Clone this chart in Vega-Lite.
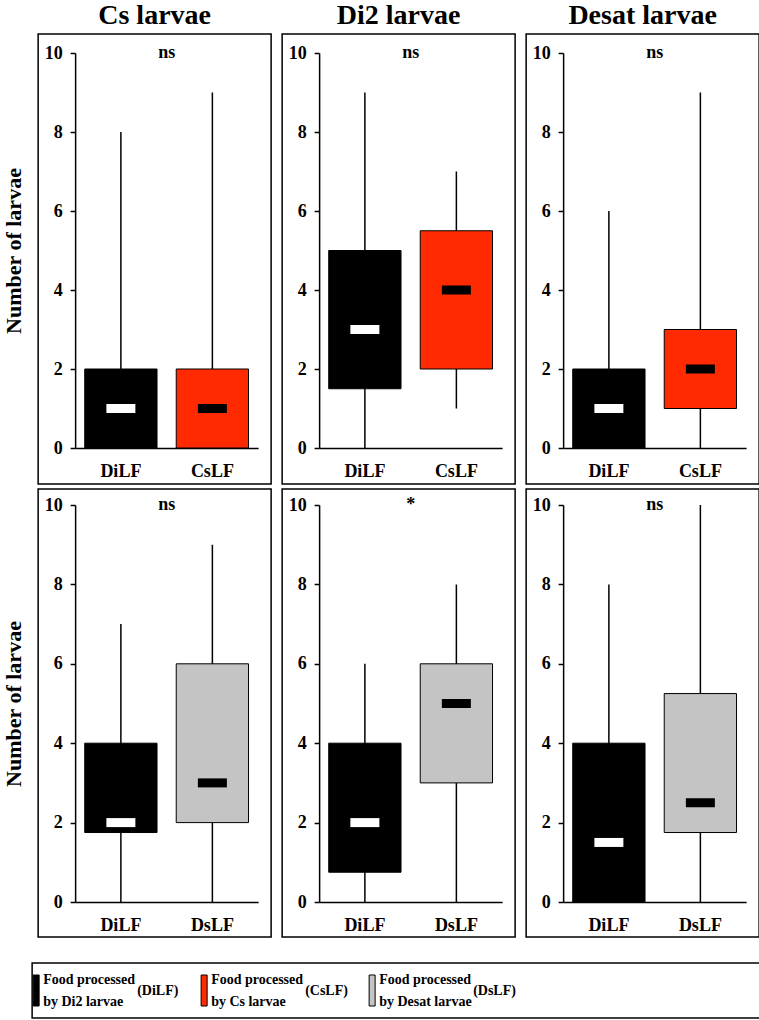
{
  "$schema": "https://vega.github.io/schema/vega-lite/v6.json",
  "padding": {"left": 1, "top": 1, "right": 0, "bottom": 0},
  "background": "white",
  "datasets": {
    "boxes": [
      {"panel": "A", "group": "DiLF", "lower": 0, "q1": 0, "median": 1, "q3": 2, "upper": 8},
      {"panel": "A", "group": "CsLF", "lower": 0, "q1": 0, "median": 1, "q3": 2, "upper": 9},
      {"panel": "B", "group": "DiLF", "lower": 0, "q1": 1.5, "median": 3, "q3": 5, "upper": 9},
      {"panel": "B", "group": "CsLF", "lower": 1, "q1": 2, "median": 4, "q3": 5.5, "upper": 7},
      {"panel": "C", "group": "DiLF", "lower": 0, "q1": 0, "median": 1, "q3": 2, "upper": 6},
      {"panel": "C", "group": "CsLF", "lower": 0, "q1": 1, "median": 2, "q3": 3, "upper": 9},
      {"panel": "D", "group": "DiLF", "lower": 0, "q1": 1.75, "median": 2, "q3": 4, "upper": 7},
      {"panel": "D", "group": "DsLF", "lower": 0, "q1": 2, "median": 3, "q3": 6, "upper": 9},
      {"panel": "E", "group": "DiLF", "lower": 0, "q1": 0.75, "median": 2, "q3": 4, "upper": 6},
      {"panel": "E", "group": "DsLF", "lower": 0, "q1": 3, "median": 5, "q3": 6, "upper": 8},
      {"panel": "F", "group": "DiLF", "lower": 0, "q1": 0, "median": 1.5, "q3": 4, "upper": 8},
      {"panel": "F", "group": "DsLF", "lower": 0, "q1": 1.75, "median": 2.5, "q3": 5.25, "upper": 10}
    ],
    "annot": [
      {"panel": "A", "sig": "ns"},
      {"panel": "B", "sig": "ns"},
      {"panel": "C", "sig": "ns"},
      {"panel": "D", "sig": "ns"},
      {"panel": "E", "sig": "*"},
      {"panel": "F", "sig": "ns"}
    ],
    "legend": [
      {"code": "DiLF", "label": "Food processed\nby  Di2 larvae", "abbr": "(DiLF)"},
      {"code": "CsLF", "label": "Food processed\nby  Cs larvae", "abbr": "(CsLF)"},
      {"code": "DsLF", "label": "Food processed\nby  Desat larvae", "abbr": "(DsLF)"}
    ]
  },
  "vconcat": [
    {
      "vconcat": [
        {
          "hconcat": [
            {
              "width": 233, "height": 450,
              "title": {"text": "Cs larvae"},
              "layer": [
                {"data": {"name": "boxes"}, "transform": [{"filter": "datum.panel === 'A'"}],
                 "mark": {"type": "rule", "color": "black", "strokeWidth": 1.5},
                 "encoding": {
                   "x": {"field": "group", "type": "nominal", "sort": null, "scale": {"type": "band", "range": [37, 220], "paddingInner": 0.21, "paddingOuter": 0.105}, "axis": {"title": null, "labelAngle": 0, "ticks": false, "tickSize": 0, "labelPadding": 14, "offset": -36}},
                   "y": {"field": "lower", "type": "quantitative", "scale": {"domain": [0, 10], "range": [414, 19], "nice": false, "zero": false}, "axis": {"values": [0, 2, 4, 6, 8, 10], "offset": -37, "tickSize": 5, "labelPadding": 8, "title": "Number of larvae", "titleX": -62, "titleY": 216.5, "titleAngle": 270, "titleBaseline": "middle", "titleAlign": "center", "titleFontSize": 22}},
                   "y2": {"field": "upper"}
                 }},
                {"data": {"name": "boxes"}, "transform": [{"filter": "datum.panel === 'A'"}],
                 "mark": {"type": "bar", "stroke": "black", "strokeWidth": 1, "opacity": 1},
                 "encoding": {
                   "x": {"field": "group", "type": "nominal", "sort": null},
                   "y": {"field": "q1", "type": "quantitative"},
                   "y2": {"field": "q3"},
                   "color": {"field": "group", "type": "nominal", "scale": {"domain": ["DiLF", "CsLF", "DsLF"], "range": ["#000000", "#ff2a00", "#c4c4c4"]}, "legend": null}
                 }},
                {"data": {"name": "boxes"}, "transform": [{"filter": "datum.panel === 'A'"}],
                 "mark": {"type": "tick", "orient": "horizontal", "thickness": 9, "size": 29, "opacity": 1},
                 "encoding": {
                   "x": {"field": "group", "type": "nominal", "sort": null},
                   "y": {"field": "median", "type": "quantitative"},
                   "color": {"condition": {"test": "datum.group === 'DiLF'", "value": "white"}, "value": "black"}
                 }},
                {"data": {"name": "annot"}, "transform": [{"filter": "datum.panel === 'A'"}],
                 "mark": {"type": "text", "dx": 12, "fontSize": 18, "baseline": "middle"},
                 "encoding": {"y": {"datum": 10, "type": "quantitative"}, "text": {"field": "sig"}}}
              ]
            },
            {
              "width": 233, "height": 450,
              "title": {"text": "Di2 larvae"},
              "layer": [
                {"data": {"name": "boxes"}, "transform": [{"filter": "datum.panel === 'B'"}],
                 "mark": {"type": "rule", "color": "black", "strokeWidth": 1.5},
                 "encoding": {
                   "x": {"field": "group", "type": "nominal", "sort": null, "scale": {"type": "band", "range": [37, 220], "paddingInner": 0.21, "paddingOuter": 0.105}, "axis": {"title": null, "labelAngle": 0, "ticks": false, "tickSize": 0, "labelPadding": 14, "offset": -36}},
                   "y": {"field": "lower", "type": "quantitative", "scale": {"domain": [0, 10], "range": [414, 19], "nice": false, "zero": false}, "axis": {"values": [0, 2, 4, 6, 8, 10], "offset": -37, "tickSize": 5, "labelPadding": 8, "title": null}},
                   "y2": {"field": "upper"}
                 }},
                {"data": {"name": "boxes"}, "transform": [{"filter": "datum.panel === 'B'"}],
                 "mark": {"type": "bar", "stroke": "black", "strokeWidth": 1, "opacity": 1},
                 "encoding": {
                   "x": {"field": "group", "type": "nominal", "sort": null},
                   "y": {"field": "q1", "type": "quantitative"},
                   "y2": {"field": "q3"},
                   "color": {"field": "group", "type": "nominal", "scale": {"domain": ["DiLF", "CsLF", "DsLF"], "range": ["#000000", "#ff2a00", "#c4c4c4"]}, "legend": null}
                 }},
                {"data": {"name": "boxes"}, "transform": [{"filter": "datum.panel === 'B'"}],
                 "mark": {"type": "tick", "orient": "horizontal", "thickness": 9, "size": 29, "opacity": 1},
                 "encoding": {
                   "x": {"field": "group", "type": "nominal", "sort": null},
                   "y": {"field": "median", "type": "quantitative"},
                   "color": {"condition": {"test": "datum.group === 'DiLF'", "value": "white"}, "value": "black"}
                 }},
                {"data": {"name": "annot"}, "transform": [{"filter": "datum.panel === 'B'"}],
                 "mark": {"type": "text", "dx": 12, "fontSize": 18, "baseline": "middle"},
                 "encoding": {"y": {"datum": 10, "type": "quantitative"}, "text": {"field": "sig"}}}
              ]
            },
            {
              "width": 233, "height": 450,
              "title": {"text": "Desat larvae"},
              "layer": [
                {"data": {"name": "boxes"}, "transform": [{"filter": "datum.panel === 'C'"}],
                 "mark": {"type": "rule", "color": "black", "strokeWidth": 1.5},
                 "encoding": {
                   "x": {"field": "group", "type": "nominal", "sort": null, "scale": {"type": "band", "range": [37, 220], "paddingInner": 0.21, "paddingOuter": 0.105}, "axis": {"title": null, "labelAngle": 0, "ticks": false, "tickSize": 0, "labelPadding": 14, "offset": -36}},
                   "y": {"field": "lower", "type": "quantitative", "scale": {"domain": [0, 10], "range": [414, 19], "nice": false, "zero": false}, "axis": {"values": [0, 2, 4, 6, 8, 10], "offset": -37, "tickSize": 5, "labelPadding": 8, "title": null}},
                   "y2": {"field": "upper"}
                 }},
                {"data": {"name": "boxes"}, "transform": [{"filter": "datum.panel === 'C'"}],
                 "mark": {"type": "bar", "stroke": "black", "strokeWidth": 1, "opacity": 1},
                 "encoding": {
                   "x": {"field": "group", "type": "nominal", "sort": null},
                   "y": {"field": "q1", "type": "quantitative"},
                   "y2": {"field": "q3"},
                   "color": {"field": "group", "type": "nominal", "scale": {"domain": ["DiLF", "CsLF", "DsLF"], "range": ["#000000", "#ff2a00", "#c4c4c4"]}, "legend": null}
                 }},
                {"data": {"name": "boxes"}, "transform": [{"filter": "datum.panel === 'C'"}],
                 "mark": {"type": "tick", "orient": "horizontal", "thickness": 9, "size": 29, "opacity": 1},
                 "encoding": {
                   "x": {"field": "group", "type": "nominal", "sort": null},
                   "y": {"field": "median", "type": "quantitative"},
                   "color": {"condition": {"test": "datum.group === 'DiLF'", "value": "white"}, "value": "black"}
                 }},
                {"data": {"name": "annot"}, "transform": [{"filter": "datum.panel === 'C'"}],
                 "mark": {"type": "text", "dx": 12, "fontSize": 18, "baseline": "middle"},
                 "encoding": {"y": {"datum": 10, "type": "quantitative"}, "text": {"field": "sig"}}}
              ]
            }
          ],
          "spacing": 9
        },
        {
          "hconcat": [
            {
              "width": 233, "height": 448,
              "layer": [
                {"data": {"name": "boxes"}, "transform": [{"filter": "datum.panel === 'D'"}],
                 "mark": {"type": "rule", "color": "black", "strokeWidth": 1.5},
                 "encoding": {
                   "x": {"field": "group", "type": "nominal", "sort": null, "scale": {"type": "band", "range": [37, 220], "paddingInner": 0.21, "paddingOuter": 0.105}, "axis": {"title": null, "labelAngle": 0, "ticks": false, "tickSize": 0, "labelPadding": 14, "offset": -35}},
                   "y": {"field": "lower", "type": "quantitative", "scale": {"domain": [0, 10], "range": [413, 16], "nice": false, "zero": false}, "axis": {"values": [0, 2, 4, 6, 8, 10], "offset": -37, "tickSize": 5, "labelPadding": 8, "title": "Number of larvae", "titleX": -62, "titleY": 214.5, "titleAngle": 270, "titleBaseline": "middle", "titleAlign": "center", "titleFontSize": 22}},
                   "y2": {"field": "upper"}
                 }},
                {"data": {"name": "boxes"}, "transform": [{"filter": "datum.panel === 'D'"}],
                 "mark": {"type": "bar", "stroke": "black", "strokeWidth": 1, "opacity": 1},
                 "encoding": {
                   "x": {"field": "group", "type": "nominal", "sort": null},
                   "y": {"field": "q1", "type": "quantitative"},
                   "y2": {"field": "q3"},
                   "color": {"field": "group", "type": "nominal", "scale": {"domain": ["DiLF", "CsLF", "DsLF"], "range": ["#000000", "#ff2a00", "#c4c4c4"]}, "legend": null}
                 }},
                {"data": {"name": "boxes"}, "transform": [{"filter": "datum.panel === 'D'"}],
                 "mark": {"type": "tick", "orient": "horizontal", "thickness": 9, "size": 29, "opacity": 1},
                 "encoding": {
                   "x": {"field": "group", "type": "nominal", "sort": null},
                   "y": {"field": "median", "type": "quantitative"},
                   "color": {"condition": {"test": "datum.group === 'DiLF'", "value": "white"}, "value": "black"}
                 }},
                {"data": {"name": "annot"}, "transform": [{"filter": "datum.panel === 'D'"}],
                 "mark": {"type": "text", "dx": 12, "fontSize": 18, "baseline": "middle"},
                 "encoding": {"y": {"datum": 10, "type": "quantitative"}, "text": {"field": "sig"}}}
              ]
            },
            {
              "width": 233, "height": 448,
              "layer": [
                {"data": {"name": "boxes"}, "transform": [{"filter": "datum.panel === 'E'"}],
                 "mark": {"type": "rule", "color": "black", "strokeWidth": 1.5},
                 "encoding": {
                   "x": {"field": "group", "type": "nominal", "sort": null, "scale": {"type": "band", "range": [37, 220], "paddingInner": 0.21, "paddingOuter": 0.105}, "axis": {"title": null, "labelAngle": 0, "ticks": false, "tickSize": 0, "labelPadding": 14, "offset": -35}},
                   "y": {"field": "lower", "type": "quantitative", "scale": {"domain": [0, 10], "range": [413, 16], "nice": false, "zero": false}, "axis": {"values": [0, 2, 4, 6, 8, 10], "offset": -37, "tickSize": 5, "labelPadding": 8, "title": null}},
                   "y2": {"field": "upper"}
                 }},
                {"data": {"name": "boxes"}, "transform": [{"filter": "datum.panel === 'E'"}],
                 "mark": {"type": "bar", "stroke": "black", "strokeWidth": 1, "opacity": 1},
                 "encoding": {
                   "x": {"field": "group", "type": "nominal", "sort": null},
                   "y": {"field": "q1", "type": "quantitative"},
                   "y2": {"field": "q3"},
                   "color": {"field": "group", "type": "nominal", "scale": {"domain": ["DiLF", "CsLF", "DsLF"], "range": ["#000000", "#ff2a00", "#c4c4c4"]}, "legend": null}
                 }},
                {"data": {"name": "boxes"}, "transform": [{"filter": "datum.panel === 'E'"}],
                 "mark": {"type": "tick", "orient": "horizontal", "thickness": 9, "size": 29, "opacity": 1},
                 "encoding": {
                   "x": {"field": "group", "type": "nominal", "sort": null},
                   "y": {"field": "median", "type": "quantitative"},
                   "color": {"condition": {"test": "datum.group === 'DiLF'", "value": "white"}, "value": "black"}
                 }},
                {"data": {"name": "annot"}, "transform": [{"filter": "datum.panel === 'E'"}],
                 "mark": {"type": "text", "dx": 12, "fontSize": 18, "baseline": "middle"},
                 "encoding": {"y": {"datum": 10, "type": "quantitative"}, "text": {"field": "sig"}}}
              ]
            },
            {
              "width": 233, "height": 448,
              "layer": [
                {"data": {"name": "boxes"}, "transform": [{"filter": "datum.panel === 'F'"}],
                 "mark": {"type": "rule", "color": "black", "strokeWidth": 1.5},
                 "encoding": {
                   "x": {"field": "group", "type": "nominal", "sort": null, "scale": {"type": "band", "range": [37, 220], "paddingInner": 0.21, "paddingOuter": 0.105}, "axis": {"title": null, "labelAngle": 0, "ticks": false, "tickSize": 0, "labelPadding": 14, "offset": -35}},
                   "y": {"field": "lower", "type": "quantitative", "scale": {"domain": [0, 10], "range": [413, 16], "nice": false, "zero": false}, "axis": {"values": [0, 2, 4, 6, 8, 10], "offset": -37, "tickSize": 5, "labelPadding": 8, "title": null}},
                   "y2": {"field": "upper"}
                 }},
                {"data": {"name": "boxes"}, "transform": [{"filter": "datum.panel === 'F'"}],
                 "mark": {"type": "bar", "stroke": "black", "strokeWidth": 1, "opacity": 1},
                 "encoding": {
                   "x": {"field": "group", "type": "nominal", "sort": null},
                   "y": {"field": "q1", "type": "quantitative"},
                   "y2": {"field": "q3"},
                   "color": {"field": "group", "type": "nominal", "scale": {"domain": ["DiLF", "CsLF", "DsLF"], "range": ["#000000", "#ff2a00", "#c4c4c4"]}, "legend": null}
                 }},
                {"data": {"name": "boxes"}, "transform": [{"filter": "datum.panel === 'F'"}],
                 "mark": {"type": "tick", "orient": "horizontal", "thickness": 9, "size": 29, "opacity": 1},
                 "encoding": {
                   "x": {"field": "group", "type": "nominal", "sort": null},
                   "y": {"field": "median", "type": "quantitative"},
                   "color": {"condition": {"test": "datum.group === 'DiLF'", "value": "white"}, "value": "black"}
                 }},
                {"data": {"name": "annot"}, "transform": [{"filter": "datum.panel === 'F'"}],
                 "mark": {"type": "text", "dx": 12, "fontSize": 18, "baseline": "middle"},
                 "encoding": {"y": {"datum": 10, "type": "quantitative"}, "text": {"field": "sig"}}}
              ]
            }
          ],
          "spacing": 9
        }
      ],
      "spacing": 3
    },
    {
      "width": 733, "height": 55,
      "title": {"text": ".", "orient": "left", "offset": 1, "fontSize": 10, "color": "white"},
      "data": {"name": "legend"},
      "layer": [
        {"mark": {"type": "tick", "orient": "vertical", "thickness": 6, "size": 31, "stroke": "black", "strokeWidth": 1, "opacity": 1},
         "encoding": {
           "x": {"field": "code", "type": "nominal", "sort": null, "scale": {"type": "point", "range": [4, 340], "padding": 0}, "axis": null},
           "color": {"field": "code", "type": "nominal", "scale": {"domain": ["DiLF", "CsLF", "DsLF"], "range": ["#000000", "#ff2a00", "#c4c4c4"]}, "legend": null}
         }},
        {"mark": {"type": "text", "align": "left", "baseline": "middle", "dx": 7, "dy": -11, "fontSize": 14, "lineBreak": "\n", "lineHeight": 22},
         "encoding": {
           "x": {"field": "code", "type": "nominal", "sort": null, "axis": null},
           "text": {"field": "label"}
         }},
        {"mark": {"type": "text", "align": "left", "baseline": "middle", "dx": 101, "fontSize": 14},
         "encoding": {
           "x": {"field": "code", "type": "nominal", "sort": null, "axis": null},
           "text": {"field": "abbr"}
         }}
      ]
    }
  ],
  "center": true,
  "spacing": 24,
  "config": {
    "font": "Liberation Serif",
    "view": {"stroke": "black", "strokeWidth": 1.5},
    "axis": {
      "labelFont": "Liberation Serif", "labelFontWeight": "bold", "labelColor": "black", "labelFontSize": 18,
      "titleFont": "Liberation Serif", "titleFontWeight": "bold", "titleColor": "black",
      "domainColor": "black", "domainWidth": 1.5, "tickColor": "black", "tickWidth": 1.5, "grid": false
    },
    "title": {"font": "Liberation Serif", "fontSize": 28, "fontWeight": "bold", "color": "black", "frame": "group", "anchor": "middle", "baseline": "alphabetic", "offset": 4},
    "text": {"font": "Liberation Serif", "fontWeight": "bold", "color": "black"}
  }
}
